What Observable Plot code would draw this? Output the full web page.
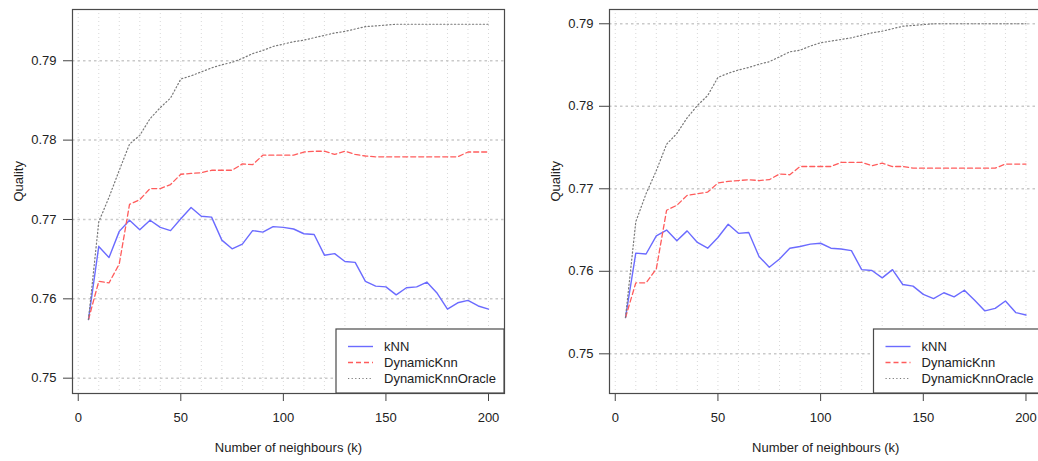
<!DOCTYPE html>
<html>
<head>
<meta charset="utf-8">
<script src="https://cdn.jsdelivr.net/npm/d3@7"></script>
<script src="https://cdn.jsdelivr.net/npm/@observablehq/plot@0.6"></script>
<style>
  html, body { margin: 0; padding: 0; background: #fff; }
  body { width: 1038px; height: 461px; overflow: hidden; position: relative; }
  .panel { position: absolute; top: 0; }
</style>
</head>
<body>
<div id="left" class="panel" style="left:0px;width:519px"></div>
<div id="right" class="panel" style="left:519px;width:540px"></div>
<script>
const kValues = [5,10,15,20,25,30,35,40,45,50,55,60,65,70,75,80,85,90,95,100,
                 105,110,115,120,125,130,135,140,145,150,155,160,165,170,175,180,185,190,195,200];

const seriesNames = ["kNN", "DynamicKnn", "DynamicKnnOracle"];
const xTicks = [0, 50, 100, 150, 200];
const yTicks = [0.75, 0.76, 0.77, 0.78, 0.79];

// Left panel
const leftKnn = [0.7574,0.7666,0.7652,0.7685,0.7699,0.7687,0.7699,0.7690,0.7686,0.7701,
                 0.7715,0.7704,0.7703,0.7674,0.7663,0.7669,0.7686,0.7684,0.7691,0.7690,
                 0.7688,0.7682,0.7681,0.7655,0.7657,0.7647,0.7646,0.7622,0.7616,0.7615,
                 0.7605,0.7614,0.7615,0.7621,0.7607,0.7587,0.7595,0.7598,0.7591,0.7587];
const leftDyn = [0.7574,0.7622,0.7620,0.7644,0.7719,0.7725,0.7739,0.7739,0.7744,0.7757,
                 0.7758,0.7759,0.7762,0.7762,0.7762,0.7770,0.7769,0.7781,0.7781,0.7781,
                 0.7781,0.7785,0.7786,0.7786,0.7782,0.7786,0.7782,0.7780,0.7779,0.7779,
                 0.7779,0.7779,0.7779,0.7779,0.7779,0.7779,0.7779,0.7785,0.7785,0.7785];
const leftOracle = [0.7574,0.7697,0.7728,0.7762,0.7795,0.7806,0.7827,0.7841,0.7853,0.7877,
                    0.7881,0.7886,0.7891,0.7895,0.7898,0.7903,0.7909,0.7913,0.7918,0.7921,
                    0.7924,0.7926,0.7929,0.7932,0.7935,0.7937,0.7940,0.7943,0.7944,0.7945,
                    0.7946,0.7946,0.7946,0.7946,0.7946,0.7946,0.7946,0.7946,0.7946,0.7946];

// Right panel
const rightKnn = [0.7544,0.7622,0.7621,0.7643,0.7650,0.7637,0.7649,0.7635,0.7628,0.7641,
                  0.7657,0.7646,0.7647,0.7618,0.7605,0.7615,0.7628,0.7630,0.7633,0.7634,
                  0.7628,0.7627,0.7625,0.7602,0.7601,0.7592,0.7602,0.7584,0.7582,0.7572,
                  0.7567,0.7574,0.7569,0.7577,0.7565,0.7552,0.7555,0.7564,0.7550,0.7547];
const rightDyn = [0.7544,0.7586,0.7586,0.7603,0.7674,0.7680,0.7692,0.7694,0.7696,0.7707,
                  0.7709,0.7710,0.7711,0.7710,0.7711,0.7718,0.7717,0.7727,0.7727,0.7727,
                  0.7727,0.7732,0.7732,0.7732,0.7728,0.7731,0.7727,0.7727,0.7725,0.7725,
                  0.7725,0.7725,0.7725,0.7725,0.7725,0.7725,0.7725,0.7730,0.7730,0.7730];
const rightOracle = [0.7544,0.7660,0.7694,0.7722,0.7754,0.7767,0.7786,0.7801,0.7813,0.7835,
                     0.7840,0.7844,0.7847,0.7851,0.7854,0.7860,0.7866,0.7868,0.7873,0.7877,
                     0.7879,0.7881,0.7883,0.7886,0.7889,0.7891,0.7894,0.7897,0.7898,0.7899,
                     0.7900,0.7900,0.7900,0.7900,0.7900,0.7900,0.7900,0.7900,0.7900,0.7900];

const styles = {
  "kNN": {stroke: "#6b6bff", strokeWidth: 1.4, dash: null},
  "DynamicKnn": {stroke: "#ff5c5c", strokeWidth: 1.3, dash: "5,3"},
  "DynamicKnnOracle": {stroke: "#7a7a7a", strokeWidth: 1.2, dash: "1.2,2.4"}
};

const FONT = "'Liberation Sans', Arial, Helvetica, sans-serif";

function toRows(arrs) {
  const rows = [];
  seriesNames.forEach((name, si) => {
    kValues.forEach((k, i) => rows.push({k, q: arrs[si][i], series: name}));
  });
  return rows;
}

function panel(el, opts) {
  const rows = toRows(opts.data);
  const H = 461, mt = 9, mb = 68;
  const lineMarks = seriesNames.map(name => Plot.line(rows.filter(d => d.series === name), {
    x: "k", y: "q",
    stroke: styles[name].stroke,
    strokeWidth: styles[name].strokeWidth,
    strokeDasharray: styles[name].dash || undefined
  }));
  const chart = Plot.plot({
    width: opts.width, height: H,
    marginLeft: opts.ml, marginRight: opts.mr, marginTop: mt, marginBottom: mb,
    style: {fontFamily: FONT, fontSize: "13px", color: "#222", background: "#fff"},
    x: {domain: [-2.8, 207.8]},
    y: {domain: opts.yDomain},
    marks: [
      Plot.ruleX(d3.range(0, 201, 10), {stroke: "#d8d8d8", strokeWidth: 1, strokeDasharray: "1,3"}),
      Plot.ruleY(yTicks, {stroke: "#cacaca", strokeWidth: 1.5, strokeDasharray: "2.5,3"}),
      ...lineMarks,
      Plot.axisX({ticks: xTicks, tickSize: 8, tickPadding: 11, label: null, fontSize: 13, stroke: "#444", fill: "#222", tickFormat: d3.format("d")}),
      Plot.axisY({ticks: yTicks, tickSize: opts.tickY, tickPadding: opts.padY, label: null, fontSize: 13, stroke: "#444", fill: "#222", tickFormat: d3.format(".2f")}),
      Plot.frame({stroke: "#4a4a4a", strokeWidth: 1.2}),
      Plot.text(["Quality"], {text: d => d, frameAnchor: "left", dx: opts.qdx, rotate: -90, fontSize: 13, fill: "#222"}),
      Plot.text(["Number of neighbours (k)"], {text: d => d, frameAnchor: "bottom", dy: 58, fontSize: 13, fill: "#222"})
    ]
  });
  el.appendChild(chart);

  // Legend (R-style bottomright box)
  const svg = d3.select(chart.tagName.toLowerCase() === "svg" ? chart : chart.querySelector("svg"));
  const right = opts.width - opts.mr, bottom = H - mb;
  const bw = 168, bh = 64;
  const g = svg.append("g").attr("text-anchor", "start");
  g.append("rect").attr("x", right - bw).attr("y", bottom - bh).attr("width", bw).attr("height", bh)
    .attr("fill", "#fff").attr("stroke", "#4a4a4a").attr("stroke-width", 1.2);
  const rowY = [-46.5, -30.5, -14.5];
  seriesNames.forEach((name, i) => {
    const y = bottom + rowY[i];
    const x0 = right - bw;
    const s = styles[name];
    g.append("line").attr("x1", x0 + 12).attr("x2", x0 + 37).attr("y1", y).attr("y2", y)
      .attr("stroke", s.stroke).attr("stroke-width", s.strokeWidth)
      .attr("stroke-dasharray", s.dash);
    g.append("text").attr("x", x0 + 48).attr("y", y).attr("dy", "0.35em")
      .attr("text-anchor", "start")
      .attr("font-family", FONT).attr("font-size", 13).attr("fill", "#222").text(name);
  });
}

panel(document.getElementById("left"), {
  data: [leftKnn, leftDyn, leftOracle],
  width: 519, ml: 72, mr: 15, yDomain: [0.74807, 0.79646], tickY: 9, padY: 7, qdx: -54
});
panel(document.getElementById("right"), {
  data: [rightKnn, rightDyn, rightOracle],
  width: 540, ml: 90, mr: 17.5, yDomain: [0.74519, 0.79173], tickY: 10, padY: 6, qdx: -54
});
</script>
</body>
</html>
